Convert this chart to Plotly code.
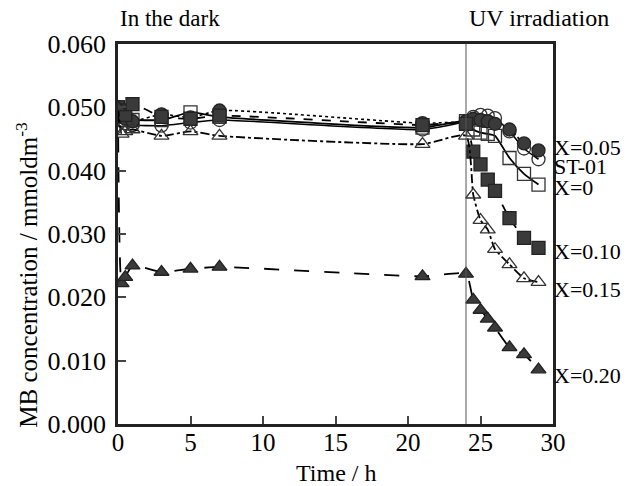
import plotly.graph_objects as go

# ---- data ----
time_h = [0, 0.25, 0.5, 1, 3, 5, 7, 21, 24, 24.5, 25, 25.5, 26, 27, 28, 29]
st01 = [0.0495, 0.0480, 0.0475, 0.0472, 0.0471, 0.0476, 0.0480, 0.0465, 0.0478,
        0.0485, 0.0488, 0.0487, 0.0483, 0.0462, 0.0435, 0.0418]
x000 = [0.0500, 0.0485, 0.0480, 0.0480, 0.0480, 0.0492, 0.0485, 0.0468, 0.0478,
        0.0465, 0.0460, 0.0458, 0.0455, 0.0420, 0.0395, 0.0378]
x005 = [0.0500, 0.0488, 0.0482, 0.0478, 0.0489, 0.0484, 0.0495, 0.0475, 0.0478,
        0.0482, 0.0480, 0.0478, 0.0474, 0.0465, 0.0443, 0.0432]
x010 = [0.0500, 0.0495, 0.0488, 0.0505, 0.0485, 0.0482, 0.0487, 0.0472, 0.0474,
        0.0430, 0.0410, 0.0386, 0.0368, 0.0325, 0.0294, 0.0278]
x015 = [0.0500, 0.0458, 0.0462, 0.0465, 0.0455, 0.0462, 0.0455, 0.0442, 0.0455,
        0.0362, 0.0322, 0.0307, 0.0276, 0.0252, 0.0230, 0.0224]
x020 = [0.0500, 0.0222, 0.0232, 0.0250, 0.0240, 0.0245, 0.0248, 0.0233, 0.0237,
        0.0196, 0.0180, 0.0166, 0.0152, 0.0121, 0.0110, 0.0086]

series_names = ["ST-01", "X=0", "X=0.05", "X=0.10", "X=0.15", "X=0.20"]
series_vals = [st01, x000, x005, x010, x015, x020]
label_y = [0.0406, 0.0374, 0.0437, 0.0272, 0.0212, 0.0076]

x_ticks = [0, 5, 10, 15, 20, 25, 30]
y_ticks = [0.000, 0.010, 0.020, 0.030, 0.040, 0.050, 0.060]
uv_start = 24
x_title = "Time / h"
y_title = "MB concentration / mmoldm<sup>-3</sup>"

# ---- styles ----
FONT = "Liberation Serif, Times New Roman, serif"
DK = "#3a3a3a"
styles = [
    dict(symbol="circle-open", color="#333", dash="solid", lw=1.6),
    dict(symbol="square-open", color="#333", dash="solid", lw=1.8),
    dict(symbol="circle", color=DK, dash="dot", lw=1.6),
    dict(symbol="square", color=DK, dash="dash", lw=1.8),
    dict(symbol="triangle-up-open", color="#333", dash="dashdot", lw=1.8),
    dict(symbol="triangle-up", color=DK, dash="longdash", lw=1.8),
]

fig = go.Figure()
for name, vals, st in zip(series_names, series_vals, styles):
    fig.add_trace(go.Scatter(
        x=time_h, y=vals, name=name, mode="lines+markers",
        line=dict(color="black", width=st["lw"], dash=st["dash"], shape="spline", smoothing=0.5),
        marker=dict(symbol=st["symbol"], size=13, color=st["color"],
                    line=dict(color="#222", width=1.3)),
        showlegend=False,
    ))

fig.add_shape(type="line", x0=uv_start, x1=uv_start, y0=0, y1=1, xref="x", yref="paper",
              line=dict(color="#555", width=1))

annotations = [
    dict(text="In the dark", x=0, y=1, xref="paper", yref="paper", xanchor="left",
         yanchor="bottom", yshift=11, showarrow=False,
         font=dict(family=FONT, size=23, color="black")),
    dict(text="UV irradiation", x=uv_start, y=1, xref="x", yref="paper", xanchor="left",
         yanchor="bottom", yshift=11, xshift=1, showarrow=False,
         font=dict(family=FONT, size=24, color="black")),
    dict(text=x_title, x=0.5, y=-0.128, xref="paper", yref="paper", xanchor="center",
         yanchor="middle", showarrow=False, font=dict(family=FONT, size=24, color="black")),
    dict(text=y_title, x=-0.210, y=0.392, xref="paper", yref="paper", xanchor="center",
         yanchor="middle", textangle=-90, showarrow=False,
         font=dict(family=FONT, size=25, color="black")),
]
for name, ly in zip(series_names, label_y):
    annotations.append(dict(text=name, x=1, y=ly, xref="paper", yref="y", xanchor="left",
                            xshift=-1, showarrow=False,
                            font=dict(family=FONT, size=22, color="black")))

fig.update_layout(
    width=630, height=486,
    margin=dict(l=118, r=77, t=44, b=62, autoexpand=False),
    paper_bgcolor="white", plot_bgcolor="white",
    font=dict(family=FONT, size=22, color="black"),
    annotations=annotations,
)
fig.update_xaxes(range=[0, 30], tickvals=x_ticks, ticks="inside", ticklen=8, tickwidth=2,
                 showline=True, linewidth=2.5, linecolor="#222", mirror=True, showgrid=False,
                 zeroline=False, automargin=False, ticklabelstandoff=-6,
                 tickfont=dict(family=FONT, size=25))
fig.update_yaxes(range=[0, 0.060], tickvals=y_ticks, tickformat=".3f", ticks="inside",
                 ticklen=8, tickwidth=2, showline=True, linewidth=2.5, linecolor="#222",
                 mirror=True, showgrid=False, zeroline=False, automargin=False,
                 ticklabelstandoff=4,
                 tickfont=dict(family=FONT, size=26))

fig.write_html("out.html")
